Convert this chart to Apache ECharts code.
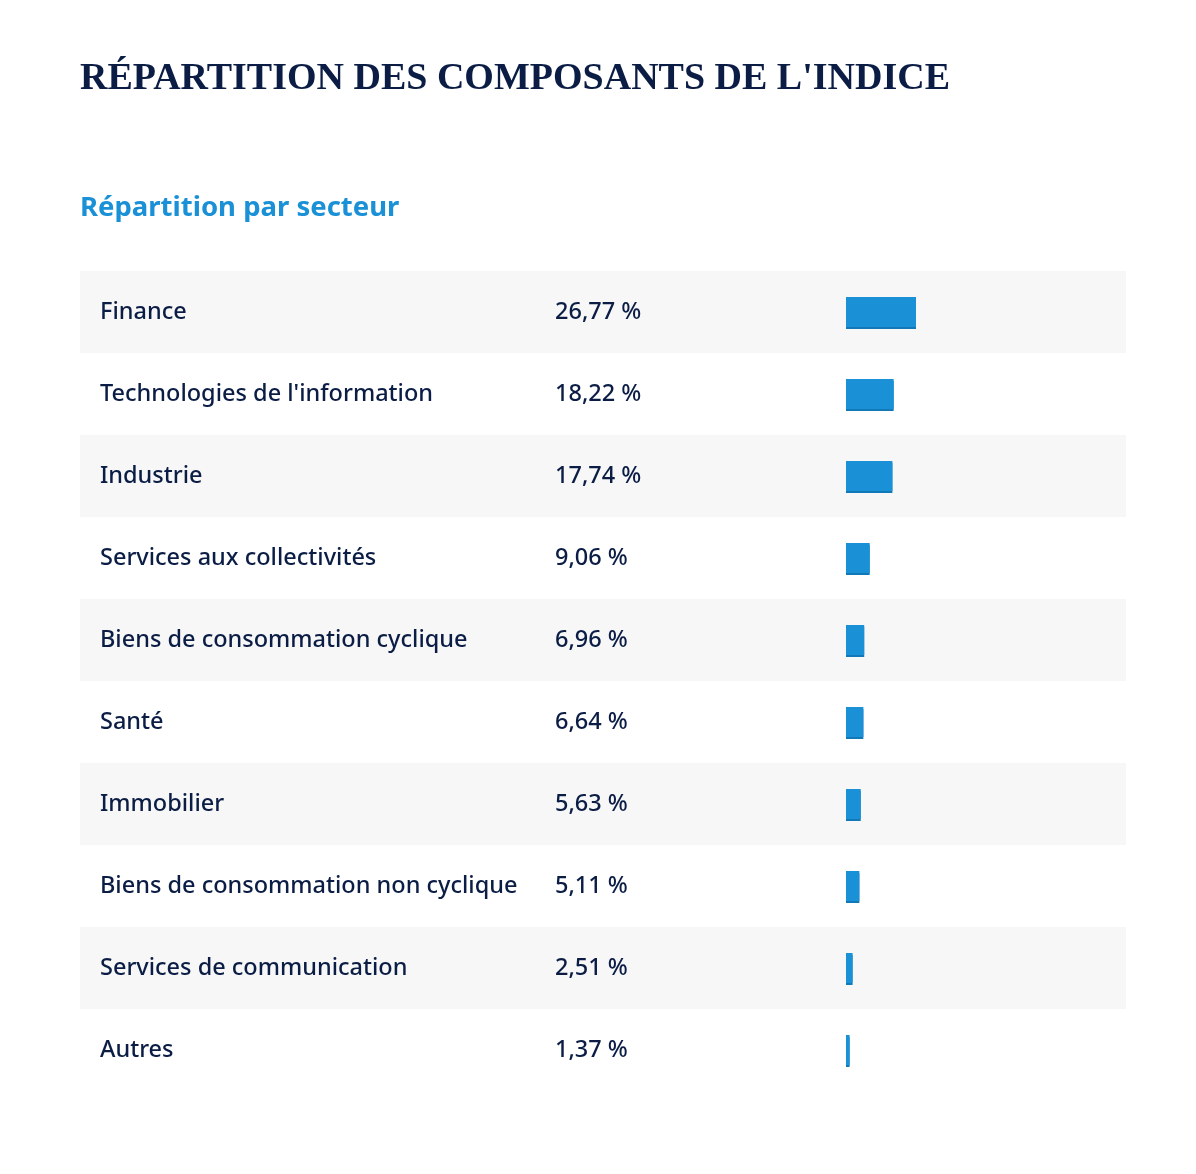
<!DOCTYPE html>
<html><head><meta charset="utf-8">
<script src="https://cdn.jsdelivr.net/npm/echarts@6/dist/echarts.min.js"></script>
<style>html,body{margin:0;padding:0;background:#fff}#c{width:1196px;height:1174px}</style>
</head><body><div id="c"></div>
<script>
const sectors = ["Finance","Technologies de l'information","Industrie","Services aux collectivités","Biens de consommation cyclique","Santé","Immobilier","Biens de consommation non cyclique","Services de communication","Autres"];
const weights = [26.77,18.22,17.74,9.06,6.96,6.64,5.63,5.11,2.51,1.37];
const fmt = v => v.toFixed(2).replace('.', ',') + ' %';

const chart = echarts.init(document.getElementById('c'));
const navy = '#0b1d45';
chart.setOption({
  animation: false,
  title: [
    {text: "RÉPARTITION DES COMPOSANTS DE L'INDICE", left: 75, top: 55,
     textStyle: {fontFamily: 'Liberation Serif', fontWeight: 'bold', fontSize: 38, color: navy}},
    {text: 'Répartition par secteur', left: 75, top: 189,
     textStyle: {fontFamily: 'Noto Sans', fontWeight: 'bold', fontSize: 27.5, color: '#1a91d7'}}
  ],
  grid: [
    {left: 80, width: 1046, top: 271, height: 820},
    {left: 846, width: 261.5, top: 271, height: 820}
  ],
  xAxis: [
    {gridIndex: 0, type: 'value', min: 0, max: 1, show: false},
    {gridIndex: 1, type: 'value', min: 0, max: 100, show: false}
  ],
  yAxis: [
    {gridIndex: 0, type: 'category', data: sectors, inverse: true,
     axisLine: {show: false}, axisTick: {show: false}, splitLine: {show: false},
     splitArea: {show: true, areaStyle: {color: ['#f7f7f7', '#ffffff']}},
     axisLabel: {inside: true, margin: 20, fontFamily: 'Noto Sans', fontSize: 23.5, color: navy,
       formatter: (v, i) => '{n|' + v + '}{v|' + fmt(weights[i]) + '}',
       rich: {n: {width: 455, fontFamily: 'Noto Sans', fontSize: 23.5, fontWeight: 500, color: navy},
              v: {fontFamily: 'Noto Sans', fontSize: 23.5, fontWeight: 500, color: navy}}}},
    {gridIndex: 1, type: 'category', data: sectors, inverse: true, show: false}
  ],
  series: [{
    type: 'bar', xAxisIndex: 1, yAxisIndex: 1, data: weights, barWidth: 30,
    itemStyle: {color: '#1a91d7', shadowColor: '#1279b8', shadowOffsetY: 2, shadowBlur: 0}
  }]
});
</script></body></html>
